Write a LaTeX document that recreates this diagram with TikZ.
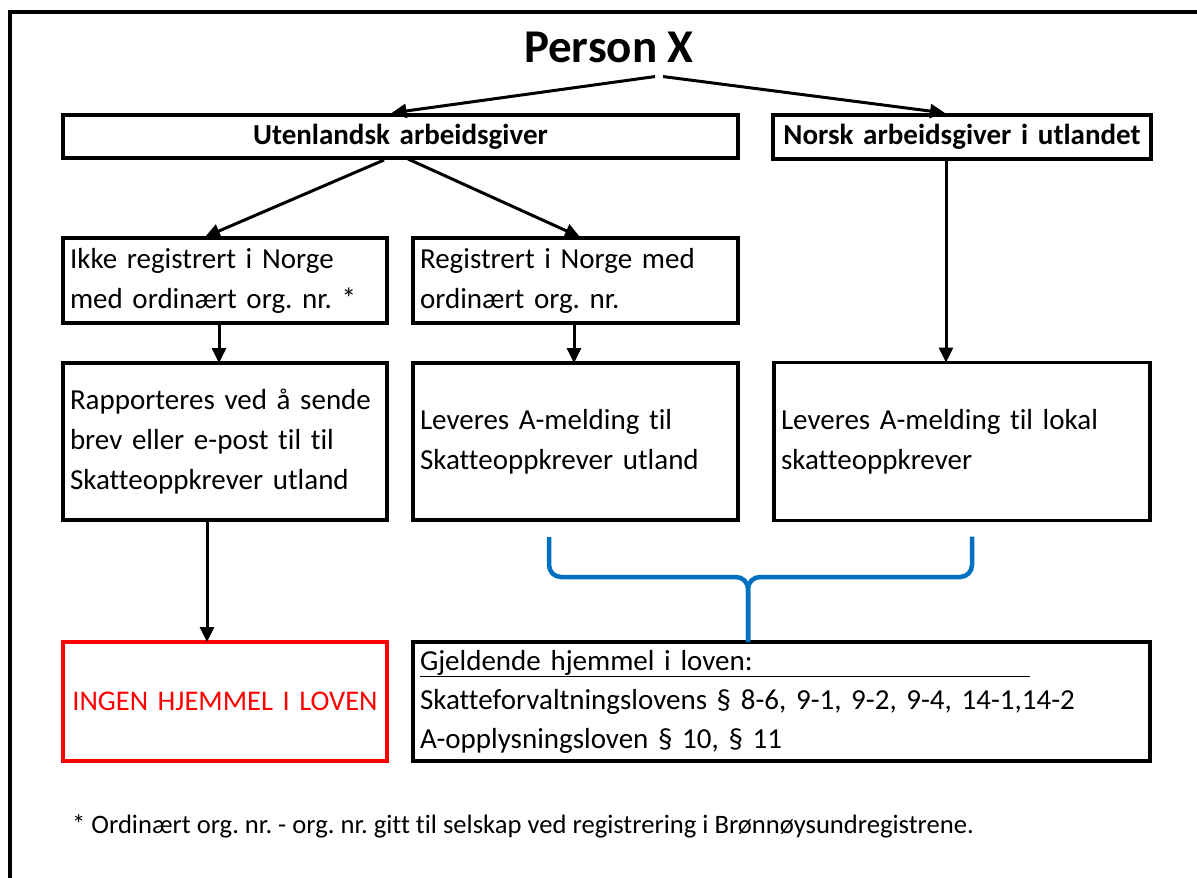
\documentclass[tikz,border=0pt]{standalone}
\usepackage{fontspec}
\setmainfont{Carlito}[Ligatures={NoCommon}]
\usepackage{xcolor}
\usepackage{tikz}
\usetikzlibrary{arrows.meta,positioning,calc}

\definecolor{braceblue}{RGB}{0,112,192}
\definecolor{nored}{RGB}{255,0,0}
\newcommand{\boxfont}{\fontsize{29}{40}\selectfont}
\frenchspacing

\begin{document}
\begin{tikzpicture}[
    x=1pt, y=-1pt,
    node distance=40pt and 26pt,
    box/.style={rectangle, draw, line width=3.3pt, outer sep=0pt, inner xsep=7pt, inner ysep=0pt, align=left, font=\boxfont},
    headbox/.style={box, align=center, font=\boxfont\bfseries},
    redbox/.style={box, draw=nored, text=nored, align=center, inner xsep=0pt},
    arrow/.style={-{Triangle[length=15pt,width=14pt]}, line width=3pt},
    brace/.style={draw=braceblue, line width=4.5pt, rounded corners=12pt}
]
    \useasboundingbox (0,0) rectangle (1197,878);
    \draw [line width=3.5pt] (10,878) -- (10,12) -- (1197,12);

    \node [font=\fontsize{47}{50}\selectfont\bfseries, inner xsep=0pt, inner ysep=14pt, anchor=base] (person) at (609,62) {Person X};
    \node [headbox, text width=661pt, minimum height=43pt] (utl) at (400.5,136.5) {Utenlandsk arbeidsgiver};
    \node [headbox, text width=364pt, minimum height=44pt] (norsk) at (962,137) {Norsk arbeidsgiver i utlandet};

    \node [box, text width=310pt, minimum height=85pt] (ikke) at (225,280.5) {Ikke registrert i Norge\\med ordinært org. nr. *};
    \node [box, text width=311pt, minimum height=85pt, right=of ikke] (reg) {Registrert i Norge med\\ordinært org. nr.};
    \node [box, text width=310pt, minimum height=157pt, below=of ikke] (rapp) {Rapporteres ved å sende\\brev eller e-post til til\\Skatteoppkrever utland};
    \node [box, text width=311pt, minimum height=157pt, below=of reg] (lev) {Leveres A-melding til\\Skatteoppkrever utland};
    \node [box, text width=362pt, minimum height=158pt, right=36pt of lev] (lokal) {Leveres A-melding til lokal\\skatteoppkrever};

    \node [redbox, text width=324pt, minimum height=119pt, below=122pt of rapp, font=\fontsize{28.5}{40}\selectfont] (ingen) {INGEN HJEMMEL I LOVEN};
    \node [box, text width=723pt, minimum height=119pt, right=of ingen, font=\fontsize{29}{39}\selectfont] (gj) {%
        \makebox[0pt][l]{\rule[-7pt]{610pt}{1.3pt}}Gjeldende hjemmel i loven:\\
        Skatteforvaltningslovens § 8-6, 9-1, 9-2, 9-4, 14-1,14-2\\
        A-opplysningsloven § 10, § 11};

    \node [font=\fontsize{26.6}{30}\selectfont, anchor=base west, inner sep=0pt] (note) at (72,833) {* Ordinært org. nr. - org. nr. gitt til selskap ved registrering i Brønnøysundregistrene.};

    \draw [arrow] ([xshift=46pt]person.south) -- ([xshift=-9pt,yshift=2pt]utl.north);
    \draw [arrow] ([xshift=54pt]person.south) -- ([xshift=-17pt,yshift=2pt]norsk.north);
    \draw [arrow] ([xshift=-16.5pt,yshift=-2pt]utl.south) -- ([xshift=-20pt,yshift=1pt]ikke.north);
    \draw [arrow] ([xshift=7.5pt,yshift=-1pt]utl.south) -- ([xshift=4.5pt,yshift=1pt]reg.north);
    \draw [arrow] ([xshift=-6pt]ikke.south) -- ([xshift=-6pt]rapp.north);
    \draw [arrow] ([xshift=-1.5pt]reg.south) -- ([xshift=-1.5pt]lev.north);
    \draw [arrow] ([xshift=-16pt,yshift=-1pt]norsk.south) -- ([xshift=-16pt]lokal.north);
    \draw [arrow] ([xshift=-18pt]rapp.south) -- ([xshift=-18pt]ingen.north);

    \coordinate (bl) at ($(lev.south)+(-26.5,17)$);
    \coordinate (br) at ($(lokal.south)+(10,16)$);
    \coordinate (bm) at ($(gj.north)+(-33.5,0)$);
    \draw [brace] (bl) |- ($(bm)+(0,-65)$) -- (bm);
    \draw [brace] (br) |- ($(bm)+(0,-65)$) -- (bm);
\end{tikzpicture}
\end{document}
